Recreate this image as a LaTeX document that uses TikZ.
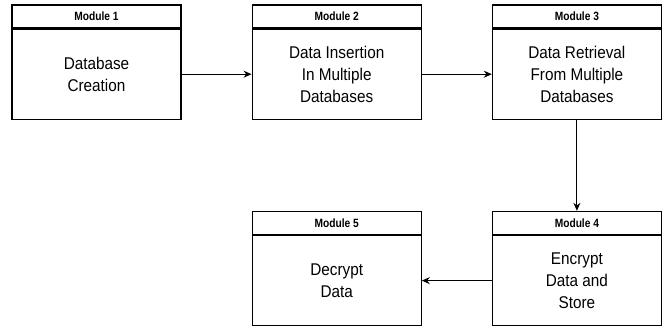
\documentclass[tikz,border=0pt]{standalone}
\usepackage{fontspec}
\setmainfont{Liberation Sans}
\newfontfamily\narrowfont[FakeStretch=0.85]{Liberation Sans}
\newfontfamily\bodyfont[FakeStretch=0.9]{Liberation Sans}
\usetikzlibrary{
  arrows.meta,
  positioning
}
\tikzset{
  modhead/.style={
    draw=black,
    fill=white,
    line width=1.2pt,
    minimum width=169pt,
    minimum height=23pt,
    inner sep=0pt,
    font=\narrowfont\fontsize{12}{14}\selectfont\bfseries
  },
  modbody/.style={
    draw=black,
    fill=white,
    line width=1.2pt,
    minimum width=169pt,
    minimum height=90pt,
    inner sep=0pt,
    align=center,
    font=\bodyfont\fontsize{17}{22}\selectfont
  },
  flow/.style={-{Stealth[length=8pt,width=7pt]}, line width=1.1pt, draw=black}
}

\begin{document}
\begin{tikzpicture}[x=1pt, y=1pt, node distance=71pt and 70pt]

\useasboundingbox (0,0) rectangle (664,-325);

% --- Top row ---
\node[modhead] (head1) at (96.5,-16.5) {Module 1};
\node[modbody, below=0pt of head1] (mod1) {Database\\Creation};

\node[modhead, right=of head1] (head2) {Module 2};
\node[modbody, below=0pt of head2] (mod2) {Data Insertion\\In Multiple\\Databases};

\node[modhead, right=of head2] (head3) {Module 3};
\node[modbody, below=0pt of head3] (mod3) {Data Retrieval\\From Multiple\\Databases};

% --- Bottom row ---
\node[modhead, below=91pt of mod3] (head4) {Module 4};
\node[modbody, below=0pt of head4] (mod4) {Encrypt\\Data and\\Store};

\node[modhead, left=of head4] (head5) {Module 5};
\node[modbody, below=0pt of head5] (mod5) {Decrypt\\Data};

% --- Flow ---
\draw[flow] (mod1.east) -- (mod2.west);
\draw[flow] (mod2.east) -- (mod3.west);
\draw[flow] (mod3.south) -- (head4.north);
\draw[flow] (mod4.west) -- (mod5.east);

\end{tikzpicture}
\end{document}
